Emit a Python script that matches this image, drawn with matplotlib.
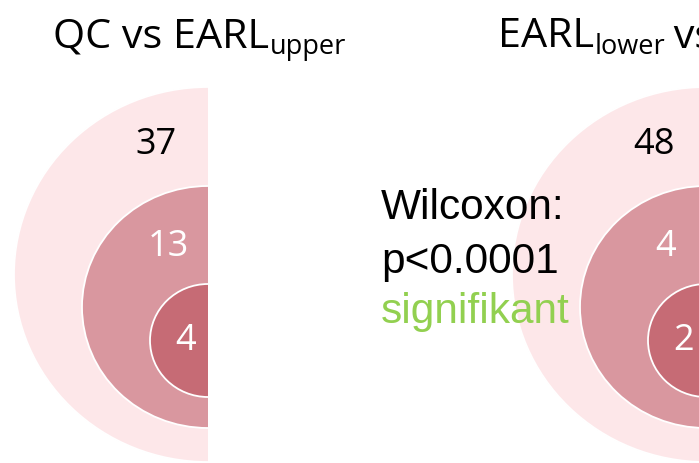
import matplotlib
matplotlib.use("Agg")
import matplotlib.pyplot as plt
from matplotlib.patches import Ellipse, Rectangle

# Counts shown in each ring (outer, middle, inner)
qc_vs_upper = [37, 13, 4]
lower_vs_other = [48, 4, 2]

titles = [("QC vs EARL", "upper", ""), ("EARL", "lower", " vs QC")]
stat_lines = ["Wilcoxon:", "p<0.0001", "signifikant"]

ring_colors = ["#FDE7E9", "#D9979F", "#C66B75"]
label_colors = ["black", "white", "white"]

# ring geometry in pixel units: (centre y, width, height)
rings = [(275.5, 388, 375), (308, 252, 242), (341.5, 116, 113)]
label_pos = [(52, 145), (40, 247), (22, 341)]  # (offset left of centre, y)

fig = plt.figure(figsize=(6.99, 4.64), dpi=100)
ax = fig.add_axes([0, 0, 1, 1])
ax.set_xlim(0, 699)
ax.set_ylim(464, 0)
ax.axis("off")


def draw_rings(cx, counts, clip_right=None):
    for (cy, w, h), col in zip(rings, ring_colors):
        e = Ellipse((cx, cy), w, h, facecolor=col, edgecolor="white", lw=1.3)
        ax.add_patch(e)
        if clip_right is not None:
            clip = Rectangle((-10, -10), clip_right + 10, 500, transform=ax.transData)
            e.set_clip_path(clip)
    for n, (dx, y), c in zip(counts, label_pos, label_colors):
        ax.text(cx - dx, y, str(n), ha="center", va="center", color=c,
                fontsize=26, family="Open Sans")


draw_rings(208, qc_vs_upper, clip_right=208)
draw_rings(706, lower_vs_other)

# titles with subscripts
fig.canvas.draw()
renderer = fig.canvas.get_renderer()
inv = ax.transData.inverted()
for (main, sub, tail), x0 in zip(titles, [53, 498]):
    t = ax.text(x0, 47, main, ha="left", va="baseline", fontsize=29.8,
                family="Open Sans", color="black")
    bb = t.get_window_extent(renderer)
    xe = inv.transform((bb.x1, bb.y0))[0]
    s = ax.text(xe + 0.5, 54, sub, ha="left", va="baseline", fontsize=19.5,
                family="Open Sans", color="black")
    if tail:
        bb2 = s.get_window_extent(renderer)
        xe2 = inv.transform((bb2.x1, bb2.y0))[0]
        ax.text(xe2 - 2, 47, tail, ha="left", va="baseline", fontsize=29.8,
                family="Open Sans", color="black")

# test result
for line, y, c in zip(stat_lines, [219, 273, 323], ["black", "black", "#92D050"]):
    ax.text(381, y, line, ha="left", va="baseline", fontsize=30.5,
            family="Liberation Sans", color=c)

fig.savefig("out.png", dpi=100)
